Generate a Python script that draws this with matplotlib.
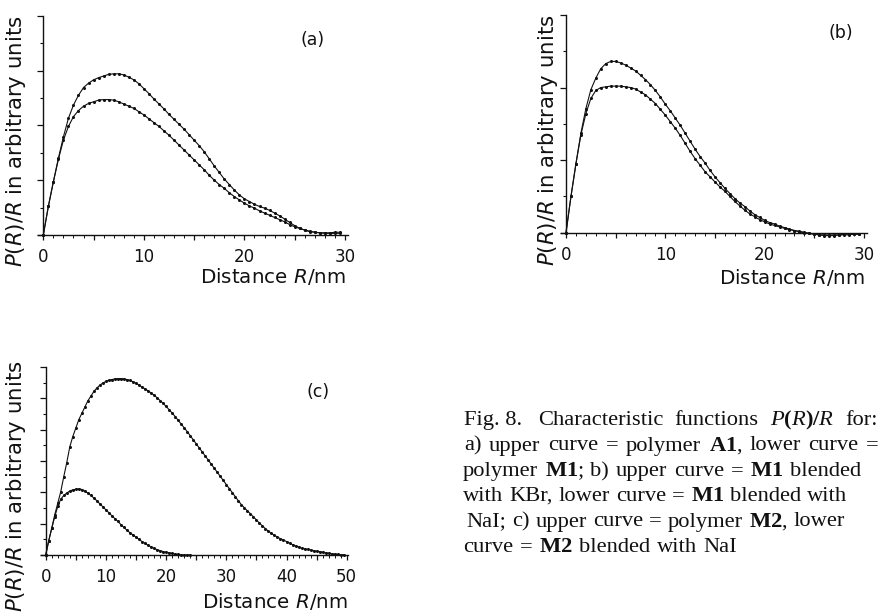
import matplotlib
matplotlib.use("Agg")
import matplotlib.pyplot as plt
from matplotlib.ticker import MultipleLocator, FuncFormatter

plt.rcParams["mathtext.fontset"] = "custom"
plt.rcParams["mathtext.rm"] = "Liberation Serif"
plt.rcParams["mathtext.it"] = "Liberation Serif:italic"
plt.rcParams["mathtext.bf"] = "Liberation Serif:bold"

# ---------------- data ----------------
r_a = [i * 0.5 for i in range(60)]
a_upper = [0, 0.52, 0.97, 1.40, 1.79, 2.13, 2.37, 2.55, 2.69, 2.77, 2.83, 2.87, 2.90, 2.93, 2.94, 2.94,
           2.92, 2.88, 2.83, 2.76, 2.67, 2.58, 2.48, 2.39, 2.30, 2.20, 2.11, 2.02, 1.93, 1.83, 1.73, 1.63,
           1.52, 1.39, 1.26, 1.14, 1.02, 0.92, 0.82, 0.73, 0.66, 0.61, 0.56, 0.52, 0.49, 0.45, 0.40, 0.35,
           0.29, 0.23, 0.17, 0.12, 0.09, 0.06, 0.05, 0.04, 0.04, 0.04, 0.05, 0.05]
a_lower = [0, 0.52, 0.97, 1.38, 1.73, 1.98, 2.16, 2.27, 2.35, 2.40, 2.43, 2.46, 2.47, 2.47, 2.46, 2.43,
           2.39, 2.35, 2.31, 2.25, 2.19, 2.12, 2.05, 1.98, 1.90, 1.82, 1.73, 1.64, 1.55, 1.46, 1.37, 1.28,
           1.19, 1.09, 1.00, 0.92, 0.85, 0.77, 0.70, 0.64, 0.58, 0.53, 0.49, 0.44, 0.40, 0.36, 0.32, 0.28,
           0.24, 0.19, 0.15, 0.12, 0.09, 0.07, 0.05, 0.04, 0.03, 0.03, 0.03, 0.03]

r_b = [i * 0.5 for i in range(60)]
b_upper = [0, 0.50, 0.95, 1.37, 1.71, 1.97, 2.13, 2.26, 2.33, 2.36, 2.36, 2.34, 2.31, 2.27, 2.23, 2.17,
           2.11, 2.04, 1.96, 1.87, 1.77, 1.68, 1.58, 1.48, 1.37, 1.26, 1.15, 1.05, 0.96, 0.86, 0.77, 0.69,
           0.61, 0.54, 0.47, 0.41, 0.36, 0.30, 0.25, 0.21, 0.17, 0.14, 0.12, 0.09, 0.07, 0.05, 0.03, 0.02,
           0.005, -0.01, -0.02, -0.03, -0.04, -0.04, -0.04, -0.03, -0.03, -0.03, -0.02, -0.02]
b_lower = [0, 0.50, 0.95, 1.35, 1.64, 1.85, 1.96, 2.00, 2.01, 2.02, 2.02, 2.02, 2.01, 2.00, 1.98, 1.94,
           1.90, 1.84, 1.78, 1.70, 1.62, 1.53, 1.44, 1.34, 1.23, 1.12, 1.02, 0.93, 0.84, 0.77, 0.70, 0.63,
           0.57, 0.50, 0.43, 0.37, 0.31, 0.26, 0.22, 0.18, 0.15, 0.12, 0.10, 0.08, 0.06, 0.04, 0.03, 0.01,
           0.0, -0.01, -0.02, -0.03, -0.03, -0.03, -0.03, -0.03, -0.02, -0.02, -0.02, -0.02]

r_c_upper = [i * 0.5 for i in range(100)]
c_upper = [0, 0.45, 0.85, 1.28, 1.65, 2.02, 2.50, 2.95, 3.45, 3.78, 4.05, 4.32, 4.52, 4.72, 4.92, 5.07,
           5.22, 5.33, 5.42, 5.49, 5.54, 5.58, 5.60, 5.62, 5.63, 5.63, 5.62, 5.60, 5.57, 5.53, 5.48, 5.42,
           5.36, 5.30, 5.24, 5.17, 5.10, 5.02, 4.93, 4.84, 4.74, 4.64, 4.53, 4.42, 4.30, 4.18, 4.06, 3.94,
           3.81, 3.68, 3.55, 3.42, 3.29, 3.16, 3.03, 2.90, 2.77, 2.64, 2.51, 2.38, 2.25, 2.12, 1.99, 1.86,
           1.73, 1.61, 1.51, 1.41, 1.32, 1.22, 1.12, 1.02, 0.93, 0.84, 0.76, 0.69, 0.63, 0.57, 0.52, 0.48,
           0.43, 0.38, 0.33, 0.29, 0.26, 0.22, 0.20, 0.18, 0.16, 0.14, 0.12, 0.11, 0.09, 0.07, 0.06, 0.04,
           0.03, 0.02, 0.01, 0.01]
r_c_lower = [i * 0.5 for i in range(49)]
c_lower = [0, 0.45, 0.85, 1.22, 1.55, 1.78, 1.90, 1.98, 2.04, 2.08, 2.10, 2.11, 2.09, 2.04, 1.98, 1.90,
           1.82, 1.73, 1.63, 1.54, 1.44, 1.35, 1.25, 1.16, 1.07, 0.97, 0.88, 0.79, 0.71, 0.64, 0.57, 0.50,
           0.43, 0.37, 0.31, 0.26, 0.21, 0.17, 0.14, 0.11, 0.09, 0.07, 0.05, 0.03, 0.02, 0.01, 0.0, 0.0, 0.0]

x_ticklabels_a = [0, 10, 20, 30]
x_ticklabels_c = [0, 10, 20, 30, 40, 50]
panel_labels = ["(a)", "(b)", "(c)"]
ylabel_text = r"$P$($R$)/$R$ in arbitrary units"
xlabel_text = r"Distance $R$/nm"
caption_head = "Fig. 8."
caption_lines = [
    r"Characteristic functions $\mathbf{\mathit{P}(\mathit{R})/\mathit{R}}$ for:",
    r"a) upper curve = polymer $\mathbf{A1}$, lower curve =",
    r"polymer $\mathbf{M1}$; b) upper curve = $\mathbf{M1}$ blended",
    r"with KBr, lower curve = $\mathbf{M1}$ blended with",
    r"NaI; c) upper curve = polymer $\mathbf{M2}$, lower",
    r"curve = $\mathbf{M2}$ blended with NaI",
]

# ---------------- layout ----------------
W, H = 881, 612
fig = plt.figure(figsize=(W / 100, H / 100), dpi=100)
INK = "#111111"


def make_axes(xlim, ylim, x0px, xa, x1px, xb, y0px, ya, y1px, yb):
    sx = (x1px - x0px) / (xb - xa)
    sy = (y0px - y1px) / (yb - ya)
    left = x0px + (xlim[0] - xa) * sx
    right = x0px + (xlim[1] - xa) * sx
    bottom = y0px - (ylim[0] - ya) * sy
    top = y0px - (ylim[1] - ya) * sy
    ax = fig.add_axes([left / W, 1 - bottom / H, (right - left) / W, (bottom - top) / H])
    ax.set_xlim(*xlim)
    ax.set_ylim(*ylim)
    return ax


def style(ax, ymax, labels, xmajor=5, xminor=1):
    ax.patch.set_alpha(0)
    for s in ("top", "right"):
        ax.spines[s].set_visible(False)
    ax.spines["left"].set_position(("data", 0))
    ax.spines["bottom"].set_position(("data", 0))
    ax.spines["left"].set_bounds(0, ymax)
    for s in ("left", "bottom"):
        ax.spines[s].set_linewidth(1.0)
        ax.spines[s].set_color(INK)
    ax.yaxis.set_major_locator(MultipleLocator(1))
    ax.yaxis.set_minor_locator(MultipleLocator(0.5))
    ax.xaxis.set_major_locator(MultipleLocator(xmajor))
    ax.xaxis.set_minor_locator(MultipleLocator(xminor))
    ax.xaxis.set_major_formatter(
        FuncFormatter(lambda v, p: f"{int(round(v))}" if int(round(v)) in labels else ""))
    ax.tick_params(axis="y", which="major", direction="out", length=4, width=0.9,
                   labelleft=False, color=INK)
    ax.tick_params(axis="y", which="minor", direction="out", length=2.5, width=0.8, color=INK)
    ax.tick_params(axis="x", which="major", direction="out", length=3.5, width=0.9,
                   pad=6, labelsize=12, color=INK, labelcolor=INK)
    ax.tick_params(axis="x", which="minor", direction="out", length=2, width=0.7, color=INK)


def curve(ax, x, y):
    ax.plot(x, y, color=INK, lw=0.8, marker="o", ms=2.2, mew=0, mfc=INK, clip_on=False)


# (a)
ax_a = make_axes((-0.5, 30.3), (-0.1, 4.0), 43.3, 0, 345, 30, 235, 0, 15.7, 4)
style(ax_a, 4, x_ticklabels_a)
curve(ax_a, r_a, a_upper)
curve(ax_a, r_a, a_lower)

# (b)
ax_b = make_axes((-0.5, 30.3), (-0.1, 3.0), 566, 0, 864, 30, 232.7, 0, 15, 3)
style(ax_b, 3, x_ticklabels_a)
curve(ax_b, r_b, b_upper)
curve(ax_b, r_b, b_lower)

# (c)
ax_c = make_axes((-0.8, 50.2), (-0.15, 6.0), 45.7, 0, 346.7, 50, 555, 0, 367, 6)
style(ax_c, 6, x_ticklabels_c)
curve(ax_c, r_c_upper, c_upper)
curve(ax_c, r_c_lower, c_lower)


def ftext(px, py, s, **kw):
    return fig.text(px / W, 1 - py / H, s, **kw)


sans = dict(family="DejaVu Sans", color=INK, math_fontfamily="dejavusans")
# y labels
ftext(16, 141, ylabel_text, rotation=90, ha="center", va="center", fontsize=15.3, **sans)
ftext(548, 140, ylabel_text, rotation=90, ha="center", va="center", fontsize=15.3, **sans)
ftext(16, 486, ylabel_text, rotation=90, ha="center", va="center", fontsize=15.3, **sans)
# x labels
ftext(346, 283, xlabel_text, ha="right", va="baseline", fontsize=14.3, **sans)
ftext(865, 284, xlabel_text, ha="right", va="baseline", fontsize=14.3, **sans)
ftext(348, 608.5, xlabel_text, ha="right", va="baseline", fontsize=14.3, **sans)
# panel labels
ftext(313, 40, panel_labels[0], ha="center", va="center", fontsize=12.5, **sans)
ftext(841, 33, panel_labels[1], ha="center", va="center", fontsize=12.5, **sans)
ftext(318, 392, panel_labels[2], ha="center", va="center", fontsize=12.5, **sans)

# caption, justified word by word like the printed block
serif = dict(fontsize=16.2, family="Liberation Serif", color=INK, math_fontfamily="custom",
             ha="left", va="baseline")
renderer = fig.canvas.get_renderer()
baselines = [425, 450.5, 476, 501, 526.5, 552]
starts = [538, 464, 463, 463, 466, 463]
ends = [878, 879, 861, 847, 845, 737]
ftext(464, baselines[0], caption_head, **serif)
for line, yb, x0, x1 in zip(caption_lines, baselines, starts, ends):
    words = line.split(" ")
    objs = [ftext(x0, yb, w, **serif) for w in words]
    widths = [o.get_window_extent(renderer).width for o in objs]
    gap = (x1 - x0 - sum(widths)) / (len(words) - 1)
    x = x0
    for o, w in zip(objs, widths):
        o.set_x(x / W)
        x += w + gap

fig.savefig("out.png", dpi=100, facecolor="white")
